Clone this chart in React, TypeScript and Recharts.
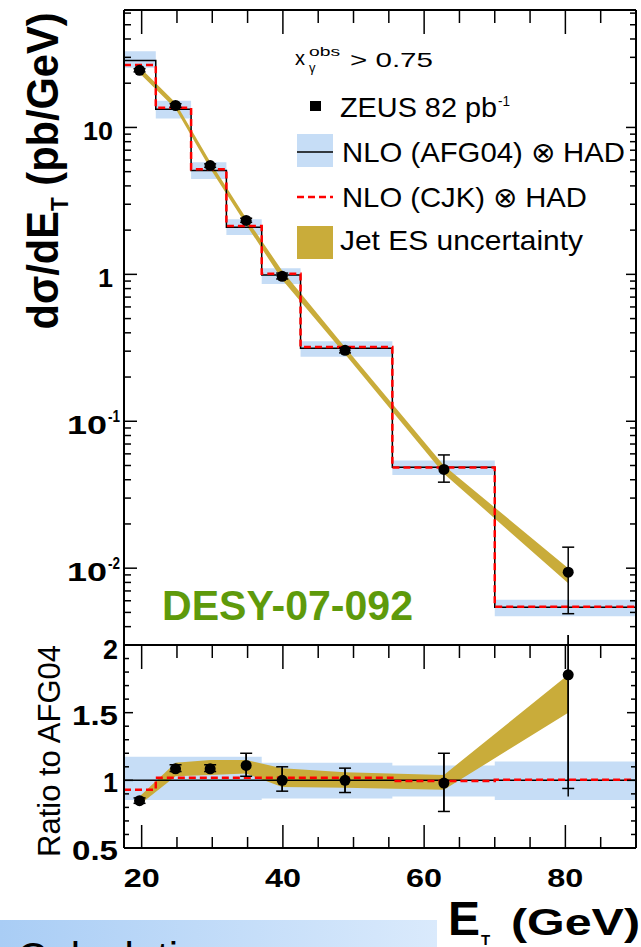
import React from 'react';
import { ComposedChart, XAxis, YAxis, Area, Line, Scatter, ErrorBar } from 'recharts';

// ---- data ----
const binEdges = [17.5, 22, 27, 32, 37, 42.5, 55.5, 70, 90];
const afgXsec = [28.6, 13.3, 5.1, 2.09, 0.99, 0.314, 0.0486, 0.00543];
const cjkXsec = [26.6, 13.6, 5.2, 2.13, 1.01, 0.32, 0.0484, 0.00546];
const afgBandLo = [25.5, 11.5, 4.45, 1.85, 0.86, 0.275, 0.043, 0.0047];
const afgBandHi = [33, 15.2, 5.8, 2.37, 1.1, 0.35, 0.054, 0.0061];

const dataEt = [19.7, 24.8, 29.7, 34.8, 39.9, 48.8, 62.8, 80.4];
const dataXsec = [24.5, 14.1, 5.5, 2.33, 0.97, 0.304, 0.047, 0.0094];
const dataErrLo = [0.6, 0.4, 0.15, 0.07, 0.04, 0.012, 0.0085, 0.0045];
const dataErrHi = [0.6, 0.4, 0.15, 0.08, 0.05, 0.012, 0.012, 0.0045];
const esLo = [23.4, 13.4, 5.25, 2.18, 0.92, 0.286, 0.044, 0.0079];
const esHi = [25.8, 14.7, 5.85, 2.41, 1.06, 0.319, 0.05, 0.01];

const afgRatio = [1, 1, 1, 1, 1, 1, 1, 1];
const cjkRatio = [0.93, 1.02, 1.02, 1.02, 1.02, 1.02, 0.995, 1.005];
const afgRatioLo = [0.855, 0.855, 0.855, 0.855, 0.865, 0.865, 0.88, 0.855];
const afgRatioHi = [1.175, 1.175, 1.175, 1.175, 1.13, 1.13, 1.11, 1.14];

const dataRatio = [0.85, 1.085, 1.085, 1.11, 1.0, 1.0, 0.98, 1.78];
const ratioErrLo = [0.02, 0.02, 0.02, 0.08, 0.08, 0.09, 0.21, 0.84];
const ratioErrHi = [0.02, 0.03, 0.03, 0.09, 0.1, 0.09, 0.22, 0.42];
const ratioTotLo = [0.02, 0.02, 0.02, 0.08, 0.08, 0.09, 0.21, 0.9];
const esRatioLo = [0.82, 1.03, 1.04, 1.05, 0.95, 0.945, 0.93, 1.5];
const esRatioHi = [0.88, 1.13, 1.15, 1.15, 1.09, 1.06, 1.04, 1.78];

const xTicks = [20, 25, 30, 35, 40, 45, 50, 55, 60, 65, 70, 75, 80, 85];
const xTickLabels = ['20', '40', '60', '80'];
const logMajor = [0.01, 0.1, 1, 10];
const logMajorBase = ['10', '10', '1', '10'];
const logMajorExp = ['-2', '-1', '', ''];
const logMinorMult = [2, 3, 4, 5, 6, 7, 8, 9];
const logMinorDecades = [0.001, 0.01, 0.1, 1, 10];
const ratioTicks = [0.5, 0.6, 0.7, 0.8, 0.9, 1.0, 1.1, 1.2, 1.3, 1.4, 1.5, 1.6, 1.7, 1.8, 1.9, 2.0];
const ratioMajor = [0.5, 1, 1.5, 2];
const ratioLabels = ['0.5', '1', '1.5', '2'];

// ---- tables built from the arrays ----
const nBins = afgXsec.length;
const lastIdx = (i: number) => Math.min(i, nBins - 1);

const topRows = [
  ...binEdges.map((x, i) => {
    const j = lastIdx(i);
    return { x, afg: afgXsec[j], cjk: cjkXsec[j], band: [afgBandLo[j], afgBandHi[j]] };
  }),
  ...dataEt.map((x, i) => ({ x, es: [esLo[i], esHi[i]] })),
].sort((a, b) => a.x - b.x);

const topPoints = dataEt.map((x, i) => ({ x, v: dataXsec[i], err: [dataErrLo[i], dataErrHi[i]] }));

const ratioRows = [
  ...binEdges.map((x, i) => {
    const j = lastIdx(i);
    return { x, afg: afgRatio[j], cjk: cjkRatio[j], band: [afgRatioLo[j], afgRatioHi[j]] };
  }),
  ...dataEt.map((x, i) => ({ x, es: [esRatioLo[i], esRatioHi[i]] })),
].sort((a, b) => a.x - b.x);

const ratioPoints = dataEt.map((x, i) => ({
  x,
  v: dataRatio[i],
  err: [ratioErrLo[i], ratioErrHi[i]],
  tot: [ratioTotLo[i], ratioErrHi[i]],
}));

const logTicks = [
  ...logMajor,
  ...logMinorDecades.flatMap((d) => logMinorMult.map((m) => d * m)).filter((v) => v >= 0.003 && v <= 63),
].sort((a, b) => a - b);

// ---- styles ----
const FONT = "'Liberation Sans', Arial, Helvetica, sans-serif";
const BLUE = '#C6DDF6';
const GOLD = '#C9AC3A';
const RED = '#FF0000';
const X_DOMAIN: [number, number] = [17.5, 90];

const isMajorX = (v: number) => Math.abs(v % 20) < 1e-6;
const isLogMajor = (v: number) => logMajor.some((m) => Math.abs(v / m - 1) < 1e-6);
const isRatioMajor = (v: number) => ratioMajor.some((m) => Math.abs(v - m) < 1e-6);

const XTickDown = (props: any) => {
  const { x, y, payload } = props;
  const len = isMajorX(payload.value) ? 24 : 13;
  return <line x1={x} x2={x} y1={y} y2={y + len} stroke="#000" strokeWidth={1.5} />;
};

const XTickUp = (props: any) => {
  const { x, y, payload } = props;
  const major = isMajorX(payload.value);
  const idx = [20, 40, 60, 80].indexOf(payload.value);
  return (
    <g>
      <line x1={x} x2={x} y1={y} y2={y - (major ? 23 : 11)} stroke="#000" strokeWidth={1.5} />
      {idx >= 0 && (
        <text x={x} y={y + 39} textAnchor="middle" fontSize={26} fontWeight="bold" fontFamily={FONT}
          textLength={36} lengthAdjust="spacingAndGlyphs" fill="#000">
          {xTickLabels[idx]}
        </text>
      )}
    </g>
  );
};

const LogLeftTick = (props: any) => {
  const { x, y, payload } = props;
  const v = payload.value;
  const major = isLogMajor(v);
  const idx = logMajor.findIndex((m) => Math.abs(v / m - 1) < 1e-6);
  const base = idx >= 0 ? logMajorBase[idx] : '';
  const exp = idx >= 0 ? logMajorExp[idx] : '';
  return (
    <g>
      <line x1={x} x2={x + (major ? 13 : 7)} y1={y} y2={y} stroke="#000" strokeWidth={1.5} />
      {idx >= 0 && exp === '' && (
        <text x={x - 11} y={y + 13} textAnchor="end" fontSize={25} fontWeight="bold" fontFamily={FONT}
          textLength={base.length * 15} lengthAdjust="spacingAndGlyphs" fill="#000">
          {base}
        </text>
      )}
      {idx >= 0 && exp !== '' && (
        <g>
          <text x={x - 57} y={y + 13} textAnchor="start" fontSize={25} fontWeight="bold" fontFamily={FONT}
            textLength={40} lengthAdjust="spacingAndGlyphs" fill="#000">
            {base}
          </text>
          <text x={x - 16} y={y + 1} textAnchor="start" fontSize={16} fontWeight="bold" fontFamily={FONT}
            textLength={12} lengthAdjust="spacingAndGlyphs" fill="#000">
            {exp}
          </text>
        </g>
      )}
    </g>
  );
};

const LogRightTick = (props: any) => {
  const { x, y, payload } = props;
  const major = isLogMajor(payload.value);
  return <line x1={x} x2={x - (major ? 10 : 6)} y1={y} y2={y} stroke="#000" strokeWidth={1.5} />;
};

const RatioLeftTick = (props: any) => {
  const { x, y, payload } = props;
  const v = payload.value;
  const major = isRatioMajor(v);
  const idx = ratioMajor.findIndex((m) => Math.abs(v - m) < 1e-6);
  const label = idx >= 0 ? ratioLabels[idx] : '';
  return (
    <g>
      <line x1={x} x2={x + (major ? 9 : 5)} y1={y} y2={y} stroke="#000" strokeWidth={1.5} />
      {idx >= 0 && (
        <text x={x - 6} y={y + (v > 1.9 ? 14 : 12)} textAnchor="end" fontSize={27} fontWeight="bold" fontFamily={FONT}
          textLength={label.length === 1 ? 15 : 46} lengthAdjust="spacingAndGlyphs" fill="#000">
          {label}
        </text>
      )}
    </g>
  );
};

const RatioRightTick = (props: any) => {
  const { x, y, payload } = props;
  const major = isRatioMajor(payload.value);
  return <line x1={x} x2={x - (major ? 9 : 5)} y1={y} y2={y} stroke="#000" strokeWidth={1.5} />;
};

const axisLine = { stroke: '#000', strokeWidth: 2 };

const Dot = (props: any) => {
  const { cx, cy } = props;
  if (cx == null || cy == null) return null;
  return <circle cx={cx} cy={cy} r={5.5} fill="#000" />;
};

function TopPanel() {
  return (
    <ComposedChart width={641} height={645} data={topRows} margin={{ top: 0, right: 0, bottom: 0, left: 0 }}>
      <XAxis xAxisId="x" type="number" dataKey="x" domain={X_DOMAIN} allowDataOverflow orientation="top"
        height={10} ticks={xTicks} interval={0} tickLine={false} tickSize={0} tickMargin={0}
        tick={XTickDown} axisLine={axisLine} />
      <YAxis yAxisId="y" type="number" scale="log" domain={[0.003, 63]} allowDataOverflow width={124}
        ticks={logTicks} interval={0} tickLine={false} tickSize={0} tickMargin={0}
        tick={LogLeftTick} axisLine={axisLine} />
      <YAxis yAxisId="r" orientation="right" type="number" scale="log" domain={[0.003, 63]} allowDataOverflow
        width={5} ticks={logTicks} interval={0} tickLine={false} tickSize={0} tickMargin={0}
        tick={LogRightTick} axisLine={axisLine} />
      <Area xAxisId="x" yAxisId="y" type="stepAfter" dataKey="band" fill={BLUE} fillOpacity={1} stroke="none"
        connectNulls isAnimationActive={false} />
      <Area xAxisId="x" yAxisId="y" type="linear" dataKey="es" fill={GOLD} fillOpacity={1} stroke="none"
        connectNulls isAnimationActive={false} />
      <Line xAxisId="x" yAxisId="y" type="stepAfter" dataKey="afg" stroke="#000" strokeWidth={1.5} dot={false}
        connectNulls isAnimationActive={false} />
      <Line xAxisId="x" yAxisId="y" type="stepAfter" dataKey="cjk" stroke={RED} strokeWidth={2.5}
        strokeDasharray="7 4" dot={false} connectNulls isAnimationActive={false} />
      <Scatter xAxisId="x" yAxisId="y" data={topPoints} dataKey="v" shape={Dot} isAnimationActive={false}>
        <ErrorBar dataKey="err" direction="y" width={6} stroke="#000" strokeWidth={1.5} />
      </Scatter>
    </ComposedChart>
  );
}

function RatioPanel() {
  return (
    <ComposedChart width={641} height={312} data={ratioRows} margin={{ top: 0, right: 0, bottom: 0, left: 0 }}>
      <XAxis xAxisId="b" type="number" dataKey="x" domain={X_DOMAIN} allowDataOverflow orientation="bottom"
        height={99} ticks={xTicks} interval={0} tickLine={false} tickSize={0} tickMargin={0}
        tick={XTickUp} axisLine={axisLine} />
      <XAxis xAxisId="t" type="number" dataKey="x" domain={X_DOMAIN} allowDataOverflow orientation="top"
        height={10} ticks={xTicks} interval={0} tickLine={false} tickSize={0} tickMargin={0}
        tick={XTickDown} axisLine={axisLine} />
      <YAxis yAxisId="y" type="number" domain={[0.5, 2]} allowDataOverflow width={124}
        ticks={ratioTicks} interval={0} tickLine={false} tickSize={0} tickMargin={0}
        tick={RatioLeftTick} axisLine={axisLine} />
      <YAxis yAxisId="r" orientation="right" type="number" domain={[0.5, 2]} allowDataOverflow width={5}
        ticks={ratioTicks} interval={0} tickLine={false} tickSize={0} tickMargin={0}
        tick={RatioRightTick} axisLine={axisLine} />
      <Area xAxisId="b" yAxisId="y" type="stepAfter" dataKey="band" fill={BLUE} fillOpacity={1} stroke="none"
        connectNulls isAnimationActive={false} />
      <Area xAxisId="b" yAxisId="y" type="linear" dataKey="es" fill={GOLD} fillOpacity={1} stroke="none"
        connectNulls isAnimationActive={false} />
      <Line xAxisId="b" yAxisId="y" type="stepAfter" dataKey="afg" stroke="#000" strokeWidth={1.5} dot={false}
        connectNulls isAnimationActive={false} />
      <Line xAxisId="b" yAxisId="y" type="stepAfter" dataKey="cjk" stroke={RED} strokeWidth={2.5}
        strokeDasharray="7 4" dot={false} connectNulls isAnimationActive={false} />
      <Scatter xAxisId="b" yAxisId="y" data={ratioPoints} dataKey="v" shape={Dot} isAnimationActive={false}>
        <ErrorBar dataKey="tot" direction="y" width={0} stroke="#000" strokeWidth={1.5} />
        <ErrorBar dataKey="err" direction="y" width={6} stroke="#000" strokeWidth={1.5} />
      </Scatter>
    </ComposedChart>
  );
}

function Overlay() {
  const t = { fontFamily: FONT, fill: '#000' };
  return (
    <svg width={641} height={947} style={{ position: 'absolute', left: 0, top: 0, pointerEvents: 'none' }}>
      <defs>
        <linearGradient id="slideGrad" x1="0" x2="1" y1="0" y2="0">
          <stop offset="0" stopColor="#A9CDF5" />
          <stop offset="1" stopColor="#DAEAFC" />
        </linearGradient>
      </defs>
      {/* y axis titles */}
      <text transform="rotate(-90)" x={-171} y={58} textAnchor="middle" fontSize={44} fontWeight="bold"
        textLength={317} lengthAdjust="spacingAndGlyphs" {...t}>
        dσ/dE<tspan fontSize={24} dy={10}>T</tspan><tspan dy={-10}> (pb/GeV)</tspan>
      </text>
      <text transform="rotate(-90)" x={-751} y={60} textAnchor="middle" fontSize={31}
        textLength={212} lengthAdjust="spacingAndGlyphs" {...t}>
        Ratio to AFG04
      </text>
      {/* x axis title */}
      <text x={448} y={935} fontSize={48} fontWeight="bold" textLength={32} lengthAdjust="spacingAndGlyphs" {...t}>E</text>
      <text x={481} y={945} fontSize={15} fontWeight="bold" {...t}>T</text>
      <text x={511} y={935} fontSize={37} fontWeight="bold" textLength={129} lengthAdjust="spacingAndGlyphs" {...t}>
        (GeV)
      </text>
      {/* legend */}
      <text x={295} y={65} fontSize={20} {...t}>x</text>
      <text x={309} y={56} fontSize={13} textLength={31} lengthAdjust="spacingAndGlyphs" {...t}>obs</text>
      <text x={309} y={72} fontSize={13} {...t}>γ</text>
      <text x={350} y={67} fontSize={21} textLength={83} lengthAdjust="spacingAndGlyphs" {...t}>&gt; 0.75</text>

      <rect x={310} y={101} width={11} height={10} fill="#000" />
      <text x={340} y={117} fontSize={27} textLength={157} lengthAdjust="spacingAndGlyphs" {...t}>ZEUS 82 pb</text>
      <text x={498} y={106} fontSize={15} textLength={12} lengthAdjust="spacingAndGlyphs" {...t}>-1</text>

      <rect x={297} y={134} width={36} height={33} fill={BLUE} />
      <line x1={297} x2={333} y1={152} y2={152} stroke="#000" strokeWidth={1.5} />
      <text x={342} y={162} fontSize={28} textLength={283} lengthAdjust="spacingAndGlyphs" {...t}>NLO (AFG04) ⊗ HAD</text>

      <line x1={297} x2={333} y1={197} y2={197} stroke={RED} strokeWidth={2.5} strokeDasharray="7 4" />
      <text x={342} y={207} fontSize={28} textLength={245} lengthAdjust="spacingAndGlyphs" {...t}>NLO (CJK) ⊗ HAD</text>

      <rect x={297} y={226} width={36} height={33} fill={GOLD} />
      <text x={340} y={250} fontSize={28} textLength={243} lengthAdjust="spacingAndGlyphs" {...t}>Jet ES uncertainty</text>

      {/* preprint number */}
      <text x={162} y={620} fontSize={42} fontWeight="bold" textLength={251} lengthAdjust="spacingAndGlyphs"
        fontFamily={FONT} fill="#5E9A0B">
        DESY-07-092
      </text>

      {/* slide footer */}
      <rect x={0} y={920} width={437} height={27} fill="url(#slideGrad)" />
      <text x={17} y={972} fontSize={42} {...t}>Calculations agree</text>
    </svg>
  );
}

export default function App() {
  return (
    <div style={{ position: 'absolute', left: 0, top: 0, width: 641, height: 947, background: '#fff', overflow: 'hidden' }}>
      <div style={{ position: 'absolute', left: 0, top: 0 }}>
        <TopPanel />
      </div>
      <div style={{ position: 'absolute', left: 0, top: 635 }}>
        <RatioPanel />
      </div>
      <Overlay />
    </div>
  );
}
